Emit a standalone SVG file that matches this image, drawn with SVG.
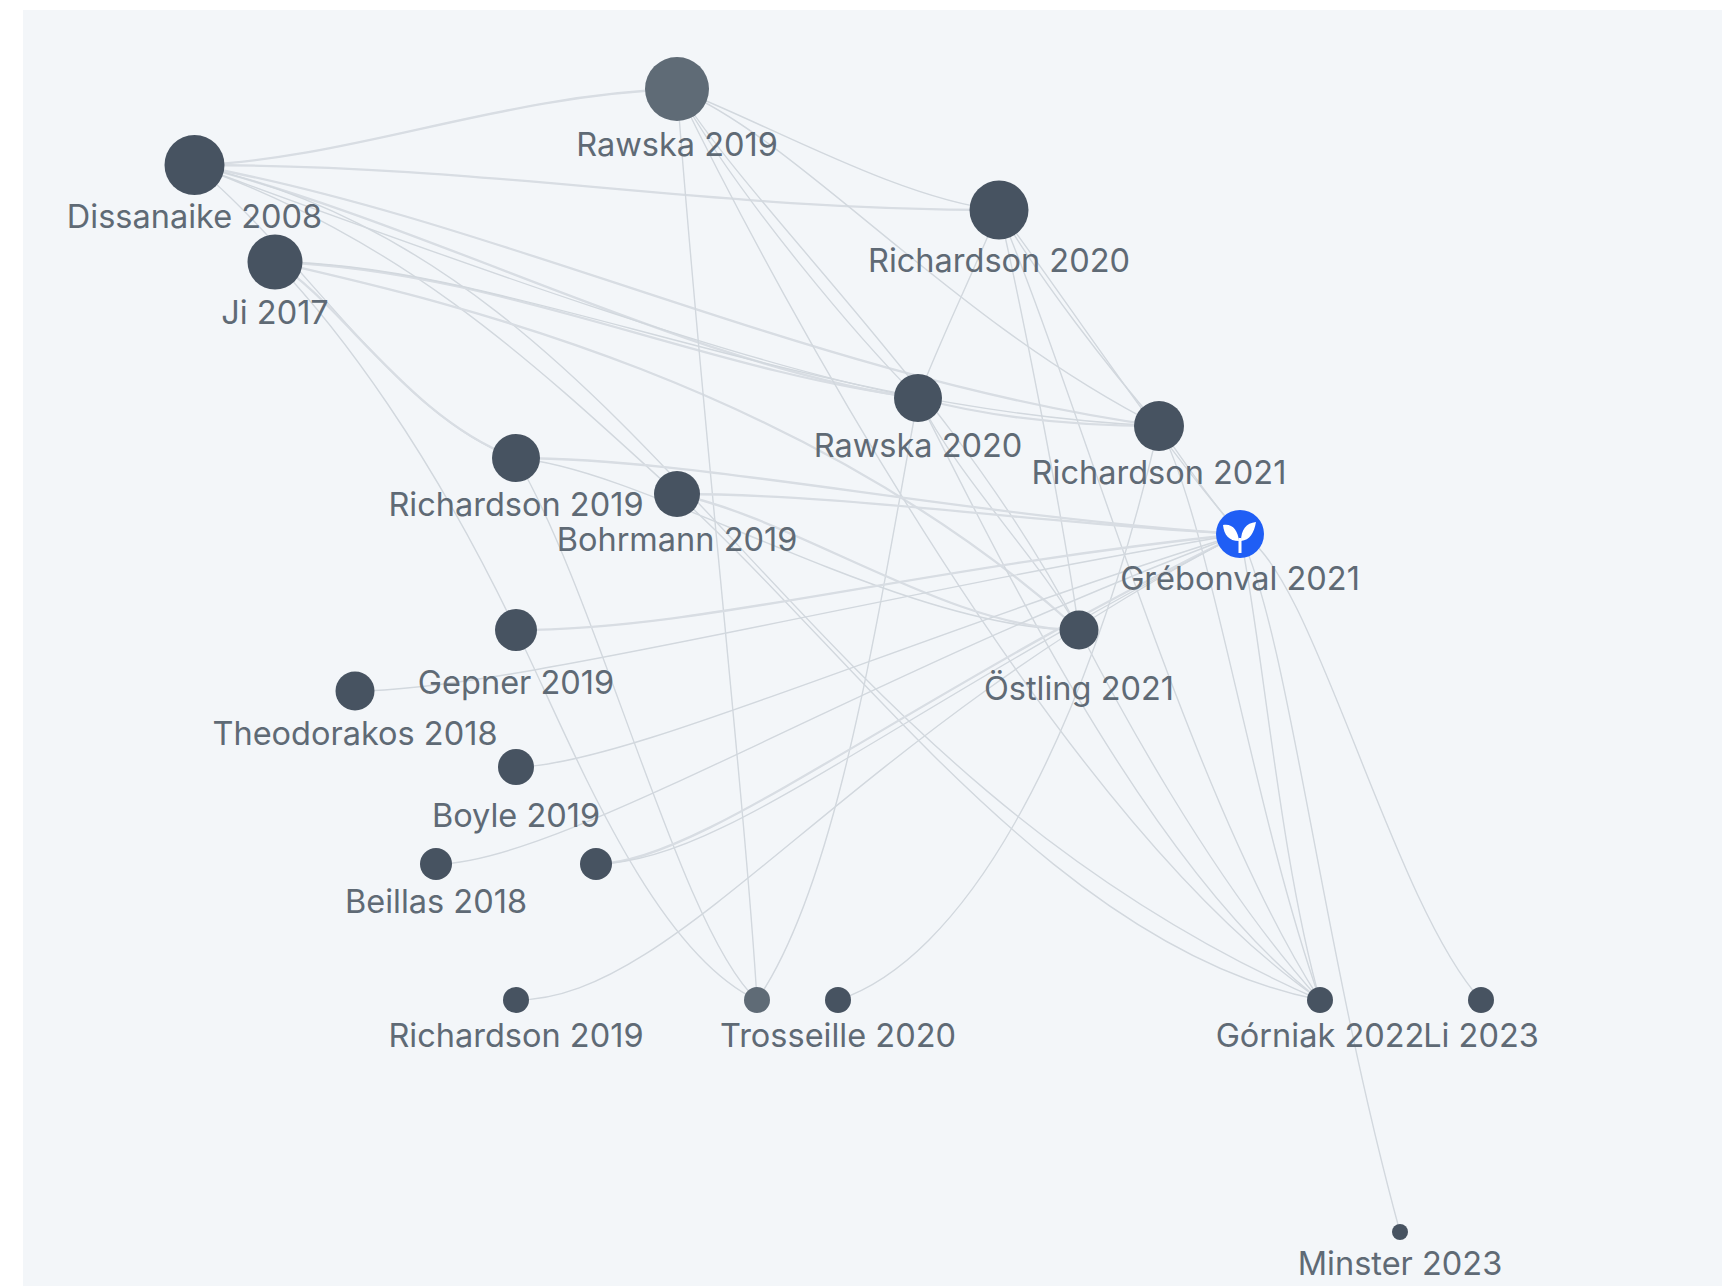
<svg xmlns="http://www.w3.org/2000/svg" width="1722" height="1286" viewBox="0 0 1722 1286">
<defs>
<style>
.e{fill:none;stroke:#d2d8de;stroke-width:1.4}
.t{stroke:#d8dde3;stroke-width:2.3}
.n{fill:#475361}
.m{fill:#5f6b76}
text{font-family:"Inter","Liberation Sans",sans-serif;font-size:32.5px;fill:#5f6a75;text-anchor:middle}
</style>
<filter id="soft" x="-5%" y="-5%" width="110%" height="110%"><feGaussianBlur stdDeviation="0.6"/></filter>
</defs>
<rect width="1722" height="1286" fill="#ffffff"/>
<rect x="23" y="10" width="1699" height="1276" fill="#f3f6f9"/>
<g id="connectors" filter="url(#soft)">
<path class="e t" d="M194,165C350,160 500,95 677,89"/>
<path class="e t" d="M194,165C500,165 700,210 999,210"/>
<path class="e t" d="M194,165C420,220 700,370 918,398"/>
<path class="e" d="M194,165C400,240 720,360 918,398"/>
<path class="e t" d="M194,165C500,220 820,380 1159,426"/>
<path class="e" d="M194,165C400,240 520,350 677,494"/>
<path class="e" d="M194,165C660,270 770,760 1320,1000"/>
<path class="e" d="M194,165C300,250 400,420 516,458"/>
<path class="e t" d="M275,262C500,270 700,370 918,398"/>
<path class="e" d="M275,262C500,262 800,410 1159,426"/>
<path class="e t" d="M275,262C440,300 800,380 1079,630"/>
<path class="e t" d="M275,262C340,300 410,420 516,458"/>
<path class="e" d="M275,262C340,330 430,450 516,630"/>
<path class="e" d="M677,89C760,120 900,200 999,210"/>
<path class="e" d="M677,89C740,200 860,340 918,398"/>
<path class="e" d="M677,89C800,140 950,320 1159,426"/>
<path class="e" d="M677,89C760,220 960,400 1079,630"/>
<path class="e" d="M677,89C780,300 1060,820 1320,1000"/>
<path class="e" d="M677,89C700,400 745,800 757,1000"/>
<path class="e" d="M999,210C970,280 940,340 918,398"/>
<path class="e" d="M999,210C1040,280 1110,370 1159,426"/>
<path class="e" d="M999,210C1020,300 1060,500 1079,630"/>
<path class="e" d="M999,210C1060,290 1150,430 1240,534"/>
<path class="e" d="M999,210C1080,400 1190,800 1320,1000"/>
<path class="e t" d="M918,398C1000,420 1080,426 1159,426"/>
<path class="e" d="M918,398C960,480 1040,560 1079,630"/>
<path class="e" d="M918,398C1000,560 1150,870 1320,1000"/>
<path class="e" d="M918,398C880,600 840,880 757,1000"/>
<path class="e" d="M1159,426C1190,470 1210,500 1240,534"/>
<path class="e" d="M1159,426C1210,520 1250,800 1320,1000"/>
<path class="e" d="M838,1000C960,960 1080,760 1159,426"/>
<path class="e t" d="M516,458C700,458 950,515 1240,534"/>
<path class="e" d="M516,458C650,470 900,630 1079,630"/>
<path class="e" d="M516,458C600,600 680,930 757,1000"/>
<path class="e t" d="M677,494C850,494 1050,525 1240,534"/>
<path class="e t" d="M677,494C800,520 950,630 1079,630"/>
<path class="e" d="M677,494C860,660 1060,950 1320,1000"/>
<path class="e t" d="M516,630C700,630 900,570 1240,534"/>
<path class="e" d="M516,630C570,740 650,950 757,1000"/>
<path class="e" d="M355,691C500,691 850,600 1240,534"/>
<path class="e" d="M516,767C620,767 900,640 1240,534"/>
<path class="e" d="M436,864C560,864 850,680 1240,534"/>
<path class="e t" d="M596,864C700,864 900,700 1240,534"/>
<path class="e" d="M596,864C720,864 880,720 1240,534"/>
<path class="e" d="M516,1000C680,1000 840,740 1240,534"/>
<path class="e" d="M1079,630C1110,690 1210,880 1320,1000"/>
<path class="e" d="M1240,534C1262,640 1280,860 1320,1000"/>
<path class="e" d="M1240,534C1290,640 1320,940 1400,1232"/>
<path class="e" d="M1240,534C1310,560 1390,900 1481,1000"/>
</g>
<g id="node-rawska-2019"><circle class="m" cx="677" cy="89" r="32"/><text x="677" y="156">Rawska 2019</text></g>
<g id="node-dissanaike-2008"><circle class="n" cx="194.500" cy="165" r="30"/><text x="194.500" y="228">Dissanaike 2008</text></g>
<g id="node-ji-2017"><circle class="n" cx="275" cy="262" r="27.500"/><text x="275" y="324">Ji 2017</text></g>
<g id="node-richardson-2020"><circle class="n" cx="999" cy="210" r="29.500"/><text x="999" y="272">Richardson 2020</text></g>
<g id="node-rawska-2020"><circle class="n" cx="918" cy="398" r="24"/><text x="918" y="457">Rawska 2020</text></g>
<g id="node-richardson-2021"><circle class="n" cx="1159" cy="426" r="25"/><text x="1159" y="484">Richardson 2021</text></g>
<g id="node-richardson-2019"><circle class="n" cx="516" cy="458" r="24"/><text x="516" y="516">Richardson 2019</text></g>
<g id="node-bohrmann-2019"><circle class="n" cx="677" cy="494" r="23"/><text x="677" y="551">Bohrmann 2019</text></g>
<g id="node-grebonval-2021"><circle cx="1240" cy="534" r="24" fill="#1f5ef5"/><path d="M1223,525C1232,523 1238,530 1239,541C1229,541 1224,535 1223,525ZM1256,522C1254,533 1250,540 1241,541C1241,530 1246,523 1256,522Z" fill="#fff"/><path d="M1240,538V553" stroke="#fff" stroke-width="3" fill="none"/><text x="1240" y="590">Grébonval 2021</text></g>
<g id="node-gepner-2019"><circle class="n" cx="516" cy="630" r="21"/><text x="516" y="694">Gepner 2019</text></g>
<g id="node-ostling-2021"><circle class="n" cx="1079" cy="630" r="19.500"/><text x="1079" y="700">Östling 2021</text></g>
<g id="node-theodorakos-2018"><circle class="n" cx="355" cy="691" r="19.500"/><text x="355" y="745">Theodorakos 2018</text></g>
<g id="node-boyle-2019"><circle class="n" cx="516" cy="767" r="18"/><text x="516" y="827">Boyle 2019</text></g>
<g id="node-beillas-2018"><circle class="n" cx="436" cy="864" r="16"/><text x="436" y="913">Beillas 2018</text></g>
<g id="node-unlabelled"><circle class="n" cx="596" cy="864" r="16"/></g>
<g id="node-richardson-2019b"><circle class="n" cx="516" cy="1000" r="13"/><text x="516" y="1047">Richardson 2019</text></g>
<g id="node-trosseille-a"><circle class="m" cx="757" cy="1000" r="13"/></g>
<g id="node-trosseille-2020"><circle class="n" cx="838" cy="1000" r="13"/><text x="838" y="1047">Trosseille 2020</text></g>
<g id="node-gorniak-2022"><circle class="n" cx="1320" cy="1000" r="13"/><text x="1320" y="1047">Górniak 2022</text></g>
<g id="node-li-2023"><circle class="n" cx="1481" cy="1000" r="13"/><text x="1481" y="1047">Li 2023</text></g>
<g id="node-minster-2023"><circle class="n" cx="1400" cy="1232" r="8"/><text x="1400" y="1275">Minster 2023</text></g>
</svg>
